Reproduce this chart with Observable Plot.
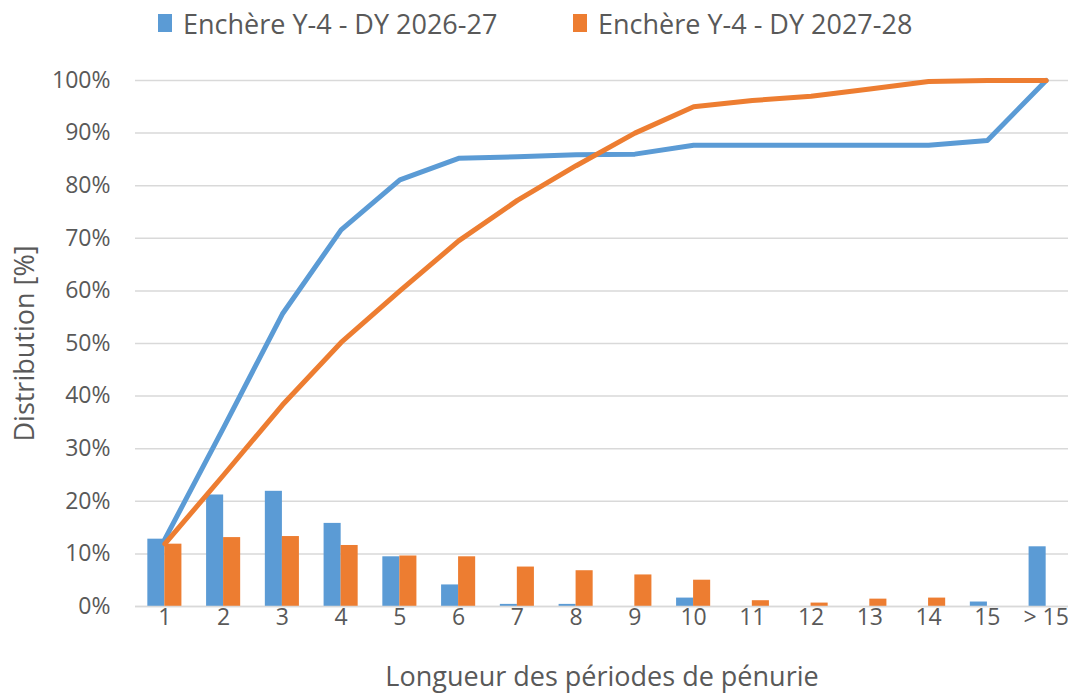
<!DOCTYPE html>
<html><head><meta charset="utf-8">
<script src="https://cdn.jsdelivr.net/npm/d3@7"></script>
<script src="https://cdn.jsdelivr.net/npm/@observablehq/plot@0.6"></script>
<style>
body{margin:0;background:#fff;font-family:"Open Sans",sans-serif;overflow:hidden}
#legend{height:45px;position:relative;color:#595959;font-size:27px}
.item{position:absolute;top:0;height:46px;display:flex;align-items:center;white-space:nowrap}
.sw{width:14px;height:18px;margin-right:11px}
</style></head>
<body>
<div id="legend"></div>
<div id="chart"></div>
<script>
const categories = ["1","2","3","4","5","6","7","8","9","10","11","12","13","14","15","> 15"];
const seriesNames = ["Enchère Y-4 - DY 2026-27", "Enchère Y-4 - DY 2027-28"];
const seriesColors = ["#5B9BD5", "#ED7D31"];
const bars2026 = [12.8, 21.2, 21.9, 15.8, 9.45, 4.1, 0.4, 0.4, 0, 1.6, 0, 0, 0, 0, 0.85, 11.35];
const bars2027 = [11.85, 13.1, 13.3, 11.6, 9.6, 9.45, 7.5, 6.8, 6.0, 5.0, 1.1, 0.65, 1.4, 1.6, 0, 0];
const cum2026 = [12.8, 34.0, 55.6, 71.6, 81.1, 85.2, 85.5, 85.9, 86.0, 87.7, 87.7, 87.7, 87.7, 87.7, 88.6, 100];
const cum2027 = [11.9, 25.0, 38.3, 50.2, 60.0, 69.5, 77.2, 83.8, 90.0, 95.0, 96.2, 97.0, 98.4, 99.8, 100, 100];
const yTicks = [0,10,20,30,40,50,60,70,80,90,100];
const xTitle = "Longueur des périodes de pénurie";
const yTitle = "Distribution [%]";

const rows = categories.map((c, i) => ({cat: c, a: bars2026[i], b: bars2027[i], ca: cum2026[i], cb: cum2027[i]}));

// legend
const legend = document.getElementById("legend");
const legendLeft = [158, 573];
seriesNames.forEach((n, i) => {
  const d = document.createElement("div");
  d.className = "item";
  d.style.left = legendLeft[i] + "px";
  d.innerHTML = `<span class="sw" style="background:${seriesColors[i]}"></span><span>${n}</span>`;
  legend.appendChild(d);
});

const chart = Plot.plot({
  width: 1068,
  height: 655,
  marginTop: 35,
  marginBottom: 94,
  marginLeft: 135,
  marginRight: 0,
  style: {fontFamily: "'Open Sans', sans-serif", color: "#595959", overflow: "visible"},
  x: {type: "band", domain: categories, range: [135, 1075], paddingInner: 0.42, paddingOuter: 0.21, round: false},
  y: {domain: [0, 100]},
  marks: [
    Plot.gridY(yTicks, {stroke: "#d9d9d9", strokeOpacity: 1, strokeWidth: 1.5}),
    Plot.barY(rows, {x: "cat", y: "a", fill: seriesColors[0], insetRight: 17}),
    Plot.barY(rows, {x: "cat", y: "b", fill: seriesColors[1], insetLeft: 17}),
    Plot.ruleY([0], {stroke: "#d9d9d9", strokeWidth: 1.5}),
    Plot.line(rows, {x: "cat", y: "ca", stroke: seriesColors[0], strokeWidth: 5, strokeLinejoin: "round", strokeLinecap: "round"}),
    Plot.line(rows, {x: "cat", y: "cb", stroke: seriesColors[1], strokeWidth: 5, strokeLinejoin: "round", strokeLinecap: "round"}),
    Plot.axisY(yTicks, {tickSize: 0, tickPadding: 25, fontSize: 23, fill: "#595959", tickFormat: d => d + "%", label: null}),
    Plot.axisX({tickSize: 0, tickPadding: 2, fontSize: 23, fill: "#595959", label: null}),
    Plot.text([yTitle], {text: d => d, frameAnchor: "left", dx: -110, rotate: -90, fontSize: 27, fill: "#595959", textAnchor: "middle"}),
    Plot.text([xTitle], {text: d => d, frameAnchor: "bottom", dy: 79, fontSize: 27, fill: "#595959", textAnchor: "middle"})
  ]
});
document.getElementById("chart").appendChild(chart);
</script>
</body></html>
